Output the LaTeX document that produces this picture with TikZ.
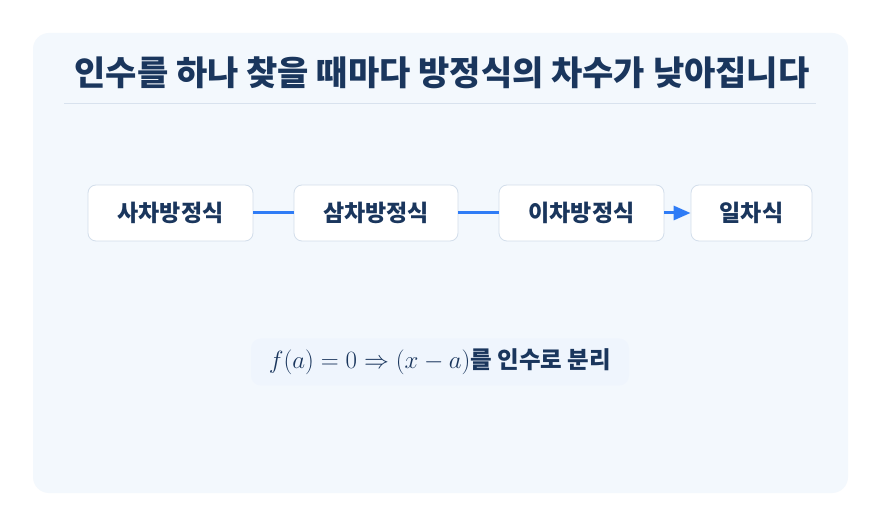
\documentclass[tikz,border=0pt]{standalone}
\usepackage[no-math]{fontspec}
\newfontfamily\kor{Noto Sans CJK KR}
\usetikzlibrary{arrows.meta}
\definecolor{panel}{HTML}{F3F8FD}
\definecolor{navy}{HTML}{1A365D}
\definecolor{rule}{HTML}{D8E2EE}
\definecolor{boxline}{HTML}{D3DEEB}
\definecolor{flow}{HTML}{2F7CF6}
\definecolor{mathbg}{HTML}{EFF5FD}
\tikzset{
  stagebox/.style={draw=boxline, line width=0.8pt, fill=white, rounded corners=8pt,
    minimum height=56pt, text=navy, font=\kor\bfseries\fontsize{23}{27}\selectfont},
  link/.style={draw=flow, line width=3pt},
}
\begin{document}
\begin{tikzpicture}[x=1pt,y=-1pt]
	\useasboundingbox (0,0) rectangle (881,526);
	\fill[white] (0,0) rectangle (881,526);
	\fill[panel, rounded corners=16pt] (33,33) rectangle (848,493);
	% title
	\node[text=navy, font=\kor\bfseries\fontsize{34}{40}\selectfont] (title) at (442,73)
		{인수를 하나 찾을 때마다 방정식의 차수가 낮아집니다};
	\draw[rule, line width=1pt] (64,104) -- (816,104);
	% stages
	\node[stagebox, minimum width=165pt] (quartic) at (170.5,213) {사차방정식};
	\node[stagebox, minimum width=164pt] (cubic) at (376,213) {삼차방정식};
	\node[stagebox, minimum width=165pt] (quadratic) at (581.5,213) {이차방정식};
	\node[stagebox, minimum width=121pt] (linear) at (751.5,213) {일차식};
		\draw[link] (quartic.east) -- (cubic.west);
		\draw[link] (cubic.east) -- (quadratic.west);
		\draw[link, -{Triangle[length=17pt,width=14pt]}] (quadratic.east) -- (linear.west);
	% factor theorem
	\node[fill=mathbg, rounded corners=10pt, minimum width=378pt, minimum height=47pt,
		text=navy, font=\fontsize{25.5}{30}\selectfont] (rule) at (440,362)
		{$f(a)=0 \Rightarrow (x-a)${\kor\bfseries\fontsize{23.5}{28}\selectfont 를 인수로 분리}};
\end{tikzpicture}
\end{document}
